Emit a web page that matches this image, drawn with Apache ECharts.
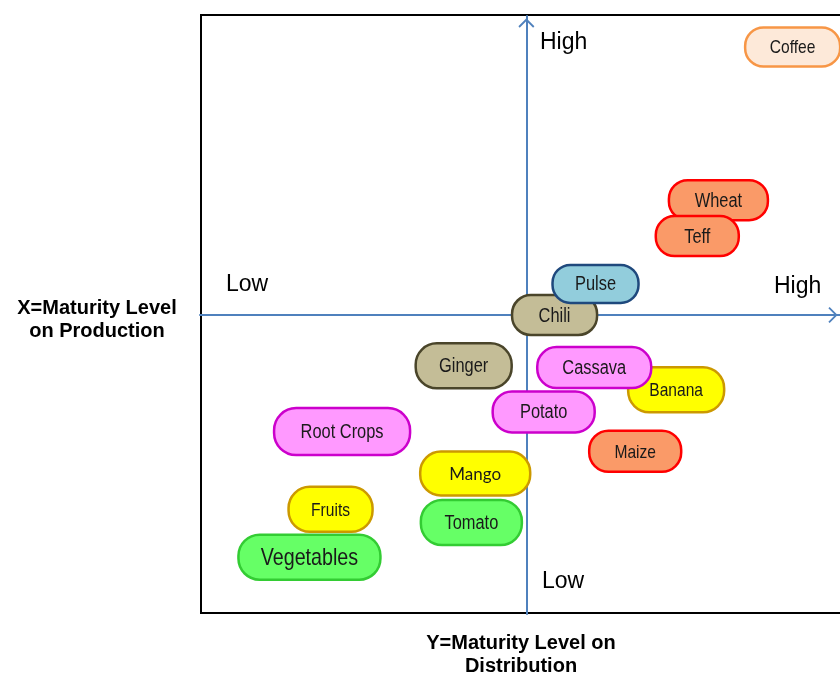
<!DOCTYPE html>
<html>
<head>
<meta charset="utf-8">
<title>Crop maturity matrix</title>
<script src="https://cdn.jsdelivr.net/npm/echarts@6/dist/echarts.min.js"></script>
<style>
  html, body { margin: 0; padding: 0; background: #fff; }
  #chart { width: 840px; height: 675px; }
</style>
</head>
<body>
<div id="chart"></div>
<script>
// Crops, in drawing order (later items sit on top of earlier ones)
const crops = ['Coffee', 'Wheat', 'Teff', 'Chili', 'Pulse', 'Ginger', 'Banana', 'Cassava',
  'Potato', 'Root Crops', 'Maize', 'Mango', 'Fruits', 'Tomato', 'Vegetables'];
// Horizontal position: maturity level (low = negative, high = positive)
const xLevel = [41.6, 30.0, 26.7, 4.4, 10.8, -9.8, 23.4, 10.6, 2.7, -28.8, 17.0, -8.0, -30.6, -8.6, -33.9];
// Vertical position: maturity level (low = negative, high = positive)
const yLevel = [44.8, 19.2, 13.2, 0.0, 5.2, -8.5, -12.5, -8.8, -16.2, -19.5, -22.8, -26.5, -32.5, -34.7, -40.5];
// Colour group of each crop
const cropGroup = ['coffee', 'cereal', 'cereal', 'spice', 'pulse', 'spice', 'fruit', 'root',
  'root', 'root', 'cereal', 'fruit', 'fruit', 'veg', 'veg'];
// Quadrant labels
const axisWords = { high: 'High', low: 'Low' };

// ---- styling ----
const groupStyle = {
  coffee: { fill: '#FDE9D9', stroke: '#F79646' },
  cereal: { fill: '#FA9A68', stroke: '#FF0000' },
  pulse:  { fill: '#92CDDC', stroke: '#1F497D' },
  spice:  { fill: '#C4BD97', stroke: '#4A452A' },
  root:   { fill: '#FF99FF', stroke: '#CC00CC' },
  fruit:  { fill: '#FFFF00', stroke: '#CC9900' },
  veg:    { fill: '#66FF66', stroke: '#33CC33' }
};
// pill box sizes [w, h] and font sizes
const pillLayout = {
  'Coffee': [95, 39, 19], 'Wheat': [99, 40, 20], 'Teff': [83, 40, 20], 'Chili': [85, 40, 20],
  'Pulse': [86, 38, 20], 'Ginger': [96, 45, 20], 'Banana': [96, 45, 19], 'Cassava': [114, 41, 20],
  'Potato': [102, 41, 20], 'Root Crops': [136, 47, 20], 'Maize': [92, 41, 19], 'Mango': [110, 44, 17],
  'Fruits': [84, 45, 19], 'Tomato': [101, 45, 20], 'Vegetables': [142, 45, 24]
};
// condensed look: regular sans squeezed horizontally
const PILL_FONT = '"Liberation Sans", Arial, sans-serif';
const NARROW_SCALE = 0.82;
const CALIBRI_LIKE = 'Lato, "Open Sans", sans-serif';

const data = crops.map((c, i) => [xLevel[i], yLevel[i], c, cropGroup[i]]);

// open chevron arrow head
const arrow = 'path://M0,10 L10,0 L20,10 L18.4,11.6 L10,3.2 L1.6,11.6 Z';
const axisBlue = '#4F81BD';

const chart = echarts.init(document.getElementById('chart'), null, { renderer: 'canvas' });

chart.setOption({
  animation: false,
  backgroundColor: '#ffffff',
  grid: { left: 200, top: 16, width: 640, height: 598, show: false },
  xAxis: {
    type: 'value', min: -51, max: 49,
    axisLine: {
      onZero: true,
      lineStyle: { color: axisBlue, width: 2 },
      symbol: ['none', arrow], symbolSize: [16, 15], symbolOffset: [0, -7]
    },
    axisTick: { show: false }, axisLabel: { show: false }, splitLine: { show: false }
  },
  yAxis: {
    type: 'value', min: -50, max: 50,
    axisLine: {
      onZero: true,
      lineStyle: { color: axisBlue, width: 2 },
      symbol: ['none', arrow], symbolSize: [16, 15], symbolOffset: [0, -7]
    },
    axisTick: { show: false }, axisLabel: { show: false }, splitLine: { show: false }
  },
  graphic: [
    { type: 'rect', z: -1, shape: { x: 201, y: 15, width: 700, height: 598 },
      style: { fill: 'none', stroke: '#000', lineWidth: 2 } },
    { type: 'text', style: { text: axisWords.high, x: 540, y: 43, textVerticalAlign: 'middle',
        font: '23px "Liberation Sans", Arial, sans-serif', fill: '#000' } },
    { type: 'text', style: { text: axisWords.low, x: 226, y: 285, textVerticalAlign: 'middle',
        font: '23px "Liberation Sans", Arial, sans-serif', fill: '#000' } },
    { type: 'text', style: { text: axisWords.high, x: 774, y: 287, textVerticalAlign: 'middle',
        font: '23px "Liberation Sans", Arial, sans-serif', fill: '#000' } },
    { type: 'text', style: { text: axisWords.low, x: 542, y: 582, textVerticalAlign: 'middle',
        font: '23px "Liberation Sans", Arial, sans-serif', fill: '#000' } },
    { type: 'text', style: { text: 'X=Maturity Level\non Production', x: 97, y: 320,
        textAlign: 'center', textVerticalAlign: 'middle', lineHeight: 23,
        font: 'bold 20px "Liberation Sans", Arial, sans-serif', fill: '#000' } },
    { type: 'text', style: { text: 'Y=Maturity Level on\nDistribution', x: 521, y: 655,
        textAlign: 'center', textVerticalAlign: 'middle', lineHeight: 23,
        font: 'bold 20px "Liberation Sans", Arial, sans-serif', fill: '#000' } }
  ],
  series: [{
    type: 'custom',
    coordinateSystem: 'cartesian2d',
    encode: { x: 0, y: 1 },
    data: data,
    renderItem: function (params, api) {
      const name = api.value(2);
      const st = groupStyle[api.value(3)];
      const p = api.coord([api.value(0), api.value(1)]);
      const lay = pillLayout[name];
      const w = lay[0], h = lay[1];
      const isMango = name === 'Mango';
      const font = lay[2] + 'px ' + (isMango ? CALIBRI_LIKE : PILL_FONT);
      return {
        type: 'group',
        children: [
          { type: 'rect',
            shape: { x: p[0] - w / 2, y: p[1] - h / 2, width: w, height: h, r: h * 0.47 },
            style: { fill: st.fill, stroke: st.stroke, lineWidth: 2.5 } },
          { type: 'text',
            x: p[0], y: p[1] + 1, scaleX: isMango ? 1 : NARROW_SCALE,
            style: { text: name, x: 0, y: 0, textAlign: 'center', textVerticalAlign: 'middle',
              font: font, fill: '#1a1a1a' } }
        ]
      };
    }
  }]
});
</script>
</body>
</html>
